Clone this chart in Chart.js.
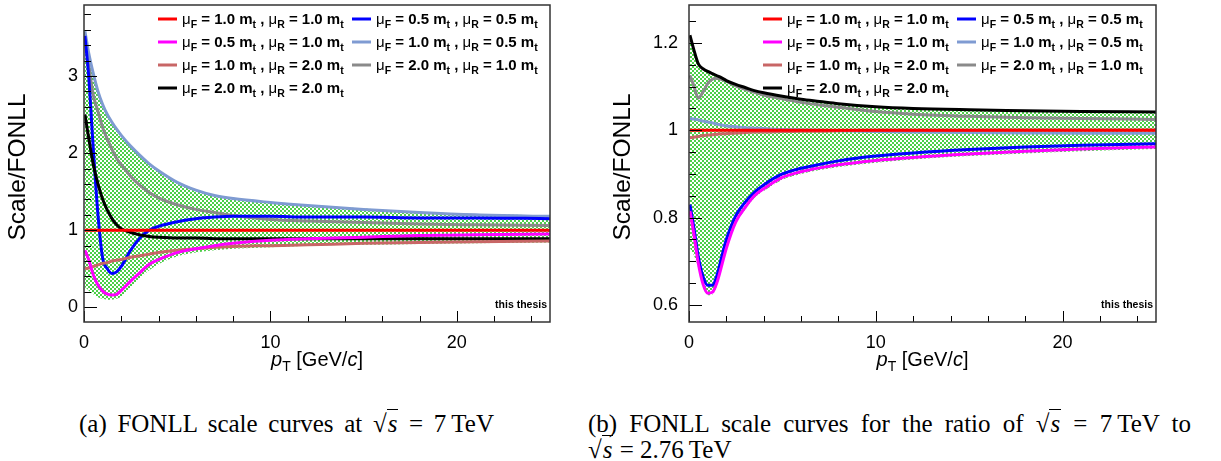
<!DOCTYPE html>
<html>
<head>
<meta charset="utf-8">
<script src="https://cdn.jsdelivr.net/npm/chart.js@4.4.0/dist/chart.umd.min.js"></script>
<style>
  body { margin: 0; background: #fff; width: 1221px; height: 461px; overflow: hidden; position: relative; }
  canvas { position: absolute; top: 0; }
  #chartA { left: 0; }
  #chartB { left: 600px; }
  .cap { position: absolute; font-family: "Liberation Serif", "Times New Roman", serif; font-size: 25px; line-height: 26px;
         color: #000; text-align: justify; text-align-last: justify; }
  .ov { font-style: italic; border-top: 1.3px solid #000; padding: 0 1px; line-height: 1; }
</style>
</head>
<body>
<canvas id="chartA" width="600" height="390"></canvas>
<canvas id="chartB" width="621" height="390"></canvas>
<div class="cap" style="left:79px; top:411px; width:415px;">(a) FONLL scale curves at √<span class="ov">s</span> = 7&#8201;TeV</div>
<div class="cap" style="left:588px; top:411px; width:603px;">(b) FONLL scale curves for the ratio of √<span class="ov">s</span> = 7&#8201;TeV to</div>
<div class="cap" style="left:588px; top:437px; text-align:left; text-align-last:left;">√<span class="ov">s</span> = 2.76&#8201;TeV</div>

<script>
// pT grid (GeV/c), shared by every curve
const pt = [0.05, 0.25, 0.5, 0.75, 1, 1.25, 1.5, 1.75, 2, 2.5, 3, 3.5, 4, 5, 6, 7, 8, 10, 12, 15, 18, 21, 25];

// legend / series labels
const muF = ['1.0', '0.5', '1.0', '2.0', '0.5', '1.0', '2.0'];
const muR = ['1.0', '1.0', '2.0', '2.0', '0.5', '0.5', '1.0'];
const colors = ['#ff0000', '#ff00ff', '#c86666', '#000000', '#0000ff', '#7f9bd2', '#8a8a8a'];

// (a) sqrt(s) = 7 TeV
const a_f10_r10 = [1, 1, 1, 1, 1, 1, 1, 1, 1, 1, 1, 1, 1, 1, 1, 1, 1, 1, 1, 1, 1, 1, 1];
const a_f05_r10 = [0.74, 0.62, 0.42, 0.29, 0.21, 0.17, 0.16, 0.17, 0.22, 0.34, 0.45, 0.56, 0.62, 0.71, 0.76, 0.80, 0.83, 0.87, 0.89, 0.91, 0.93, 0.94, 0.95];
const a_f10_r20 = [0.50, 0.51, 0.53, 0.55, 0.57, 0.58, 0.60, 0.61, 0.62, 0.65, 0.67, 0.69, 0.71, 0.74, 0.76, 0.78, 0.79, 0.80, 0.81, 0.83, 0.84, 0.85, 0.86];
const a_f20_r20 = [2.50, 2.20, 1.85, 1.60, 1.40, 1.26, 1.15, 1.07, 1.02, 0.97, 0.94, 0.92, 0.91, 0.90, 0.90, 0.89, 0.89, 0.89, 0.89, 0.89, 0.89, 0.89, 0.89];
const a_f05_r05 = [3.52, 3.00, 2.05, 1.20, 0.64, 0.50, 0.44, 0.46, 0.53, 0.74, 0.90, 1.00, 1.05, 1.11, 1.15, 1.17, 1.18, 1.18, 1.17, 1.17, 1.16, 1.16, 1.15];
const a_f10_r05 = [3.58, 3.30, 3.03, 2.80, 2.63, 2.50, 2.40, 2.31, 2.23, 2.09, 1.97, 1.86, 1.77, 1.62, 1.52, 1.45, 1.41, 1.36, 1.32, 1.27, 1.23, 1.20, 1.18];
const a_f20_r10 = [3.50, 3.15, 2.75, 2.54, 2.33, 2.18, 2.05, 1.93, 1.85, 1.70, 1.58, 1.49, 1.42, 1.33, 1.27, 1.23, 1.19, 1.14, 1.12, 1.10, 1.08, 1.07, 1.06];
const a_bandHi = [3.59, 3.31, 3.04, 2.81, 2.64, 2.51, 2.41, 2.32, 2.24, 2.10, 1.98, 1.87, 1.78, 1.63, 1.53, 1.46, 1.42, 1.37, 1.33, 1.28, 1.24, 1.21, 1.19];
const a_bandLo = [0.26, 0.22, 0.17, 0.13, 0.11, 0.10, 0.10, 0.11, 0.14, 0.26, 0.38, 0.48, 0.56, 0.66, 0.71, 0.74, 0.76, 0.78, 0.80, 0.81, 0.82, 0.83, 0.84];

// (b) ratio 7 TeV / 2.76 TeV
const b_f10_r10 = [1, 1, 1, 1, 1, 1, 1, 1, 1, 1, 1, 1, 1, 1, 1, 1, 1, 1, 1, 1, 1, 1, 1];
const b_f05_r10 = [0.815, 0.765, 0.695, 0.648, 0.627, 0.629, 0.652, 0.690, 0.730, 0.790, 0.823, 0.850, 0.866, 0.892, 0.905, 0.914, 0.921, 0.931, 0.938, 0.946, 0.952, 0.957, 0.962];
const b_f10_r20 = [0.983, 0.984, 0.986, 0.988, 0.989, 0.990, 0.991, 0.992, 0.992, 0.994, 0.995, 0.996, 0.996, 0.997, 0.998, 0.998, 0.999, 1.000, 1.000, 1.000, 1.001, 1.001, 1.001];
const b_f20_r20 = [1.218, 1.186, 1.152, 1.141, 1.135, 1.130, 1.125, 1.120, 1.114, 1.105, 1.098, 1.091, 1.086, 1.078, 1.071, 1.066, 1.061, 1.054, 1.050, 1.047, 1.045, 1.043, 1.042];
const b_f05_r05 = [0.830, 0.780, 0.710, 0.665, 0.645, 0.645, 0.668, 0.710, 0.750, 0.804, 0.835, 0.858, 0.875, 0.900, 0.913, 0.922, 0.930, 0.941, 0.948, 0.956, 0.962, 0.966, 0.969];
const b_f10_r05 = [1.027, 1.026, 1.024, 1.021, 1.019, 1.017, 1.014, 1.012, 1.010, 1.008, 1.006, 1.005, 1.004, 1.002, 1.001, 1.000, 0.999, 0.997, 0.996, 0.995, 0.994, 0.993, 0.993];
const b_f20_r10 = [1.126, 1.103, 1.074, 1.088, 1.107, 1.117, 1.119, 1.116, 1.112, 1.102, 1.094, 1.087, 1.081, 1.072, 1.064, 1.058, 1.053, 1.043, 1.037, 1.032, 1.029, 1.027, 1.025];
const b_bandHi = [1.219, 1.187, 1.153, 1.142, 1.136, 1.131, 1.126, 1.121, 1.115, 1.106, 1.099, 1.092, 1.087, 1.079, 1.072, 1.067, 1.062, 1.055, 1.051, 1.048, 1.046, 1.044, 1.043];
const b_bandLo = [0.730, 0.715, 0.685, 0.643, 0.622, 0.624, 0.645, 0.685, 0.725, 0.785, 0.818, 0.845, 0.861, 0.887, 0.900, 0.909, 0.916, 0.926, 0.933, 0.941, 0.947, 0.952, 0.957];

const FONT = '"Liberation Sans", Arial, Helvetica, sans-serif';

// green cross-hatch like ROOT fill style
const tile = document.createElement('canvas');
tile.width = 4; tile.height = 4;
const tc = tile.getContext('2d');
tc.fillStyle = '#4ccf48'; tc.fillRect(0, 0, 4, 4);
tc.fillStyle = '#ffffff'; tc.fillRect(0, 0, 2, 2); tc.fillRect(2, 2, 2, 2);
const hatch = tc.createPattern(tile, 'repeat');

function xy(ys) { return pt.map((x, i) => ({ x: x, y: ys[i] })); }

function makeSets(curves, hi, lo) {
  const sets = curves.map((ys, i) => ({
    label: 'muF ' + muF[i] + ' muR ' + muR[i],
    data: xy(ys),
    borderColor: colors[i],
    borderWidth: 3,
    pointRadius: 0,
    fill: false,
    cubicInterpolationMode: 'monotone'
  }));
  sets.push({ label: 'band', data: xy(hi), borderWidth: 0, pointRadius: 0, fill: '+1',
              backgroundColor: hatch, cubicInterpolationMode: 'monotone' });
  sets.push({ label: 'bandLo', data: xy(lo), borderWidth: 0, pointRadius: 0, fill: false,
              cubicInterpolationMode: 'monotone' });
  return sets;
}

function richText(ctx, x, y, parts) {
  parts.forEach(p => {
    ctx.font = p.font;
    ctx.fillText(p.t, x, y + (p.dy || 0));
    x += ctx.measureText(p.t).width;
  });
  return x;
}

function legendParts(f, r) {
  const mu = '15px ' + FONT, b = 'bold 15px ' + FONT, s = 'bold 10.5px ' + FONT;
  return [
    { t: 'μ', font: mu }, { t: 'F', font: s, dy: 4 }, { t: ' = ' + f + ' m', font: b }, { t: 't', font: s, dy: 4 },
    { t: ' , ', font: b },
    { t: 'μ', font: mu }, { t: 'R', font: s, dy: 4 }, { t: ' = ' + r + ' m', font: b }, { t: 't', font: s, dy: 4 }
  ];
}

const decor = {
  id: 'decor',
  afterDatasetsDraw(chart, args, o) {
    const { ctx, chartArea: a, scales: { x, y } } = chart;
    ctx.save();
    ctx.strokeStyle = '#000';
    ctx.lineWidth = 1;
    // x ticks (inside)
    for (let v = 0; v <= x.max + 1e-9; v += o.minorX) {
      const px = Math.round(x.getPixelForValue(v)) + 0.5;
      const major = Math.abs(v / 10 - Math.round(v / 10)) < 1e-6;
      ctx.beginPath(); ctx.moveTo(px, a.bottom); ctx.lineTo(px, a.bottom - (major ? 11 : 6)); ctx.stroke();
    }
    // y ticks (inside)
    const start = Math.ceil((y.min - 1e-9) / o.minorY);
    for (let k = start; k * o.minorY <= y.max + 1e-9; k++) {
      const v = k * o.minorY;
      const py = Math.round(y.getPixelForValue(v)) + 0.5;
      const major = y.ticks.some(t => Math.abs(t.value - v) < 1e-6);
      ctx.beginPath(); ctx.moveTo(a.left, py); ctx.lineTo(a.left + (major ? 13 : 7), py); ctx.stroke();
    }
    // frame
    ctx.strokeStyle = '#333';
    ctx.lineWidth = 1.5;
    ctx.strokeRect(a.left, a.top, a.right - a.left, a.bottom - a.top);

    ctx.fillStyle = '#000';
    // legend, two columns, transparent
    ctx.textBaseline = 'alphabetic';
    ctx.textAlign = 'left';
    colors.forEach((c, i) => {
      const col = i < 4 ? 0 : 1;
      const row = i < 4 ? i : i - 4;
      const cy = a.top + 14 + row * 23;
      const lx = a.left + (col ? 268 : 74);
      ctx.strokeStyle = c; ctx.lineWidth = 3;
      ctx.beginPath(); ctx.moveTo(lx, cy); ctx.lineTo(lx + 19, cy); ctx.stroke();
      richText(ctx, lx + 24, cy + 5, legendParts(muF[i], muR[i]));
    });

    // "this thesis"
    ctx.font = 'bold 10.5px ' + FONT;
    ctx.textAlign = 'right';
    ctx.textBaseline = 'middle';
    ctx.fillText('this thesis', a.right - 3, a.bottom - 17);

    // x title: p_T [GeV/c]
    ctx.textAlign = 'left';
    ctx.textBaseline = 'alphabetic';
    const xt = [
      { t: 'p', font: 'italic 20px ' + FONT }, { t: 'T', font: '14px ' + FONT, dy: 5 },
      { t: ' [GeV/', font: '20px ' + FONT }, { t: 'c', font: 'italic 20px ' + FONT }, { t: ']', font: '20px ' + FONT }
    ];
    let w = 0;
    xt.forEach(p => { ctx.font = p.font; w += ctx.measureText(p.t).width; });
    richText(ctx, (a.left + a.right) / 2 - w / 2, 366, xt);

    // y title
    ctx.translate(o.yTitleX, 167);
    ctx.rotate(-Math.PI / 2);
    ctx.font = '24.5px ' + FONT;
    ctx.textAlign = 'center';
    ctx.textBaseline = 'middle';
    ctx.fillText('Scale/FONLL', 0, 0);
    ctx.restore();
  }
};

function makeChart(id, sets, yMin, yMax, yStep, yPad, leftW, rightPad, decorOpts) {
  return new Chart(document.getElementById(id), {
    type: 'line',
    data: { datasets: sets },
    options: {
      responsive: false,
      animation: false,
      devicePixelRatio: 1,
      layout: { padding: { left: 0, right: rightPad, top: 5, bottom: 0 } },
      plugins: { legend: { display: false }, tooltip: { enabled: false }, decor: decorOpts },
      scales: {
        x: {
          type: 'linear', min: 0, max: 25,
          grid: { display: false, drawTicks: false }, border: { display: false },
          ticks: { stepSize: 10, includeBounds: false, padding: 10, color: '#000', font: { family: FONT, size: 18 } },
          afterFit(s) { s.height = 68; s.paddingLeft = 0; s.paddingRight = 0; }
        },
        y: {
          type: 'linear', min: yMin, max: yMax,
          grid: { display: false, drawTicks: false }, border: { display: false },
          ticks: { stepSize: yStep, includeBounds: false, padding: yPad, color: '#000', font: { family: FONT, size: 18 },
                   callback: v => String(+(+v).toFixed(2)) },
          afterFit(s) { s.width = leftW; s.paddingTop = 0; s.paddingBottom = 0; }
        }
      }
    },
    plugins: [decor]
  });
}

makeChart('chartA',
  makeSets([a_f10_r10, a_f05_r10, a_f10_r20, a_f20_r20, a_f05_r05, a_f10_r05, a_f20_r10], a_bandHi, a_bandLo),
  -0.19, 3.92, 1, 6, 84, 50, { minorX: 2, minorY: 0.2, yTitleX: 18 });

makeChart('chartB',
  makeSets([b_f10_r10, b_f05_r10, b_f10_r20, b_f20_r20, b_f05_r05, b_f10_r05, b_f20_r10], b_bandHi, b_bandLo),
  0.561, 1.287, 0.2, 11, 89, 65, { minorX: 2, minorY: 0.05, yTitleX: 23.5 });
</script>
</body>
</html>
